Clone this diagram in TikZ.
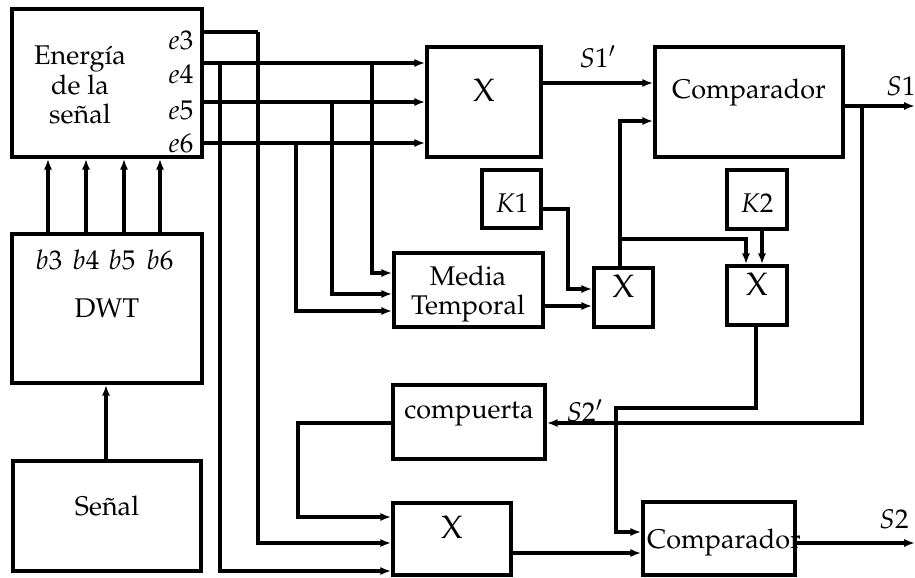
\documentclass[tikz,border=0pt]{standalone}
\usepackage[T1]{fontenc}
\usepackage{mathpazo}
\usetikzlibrary{arrows.meta,fit}
\begin{document}
\begin{tikzpicture}[x=0.37pt,y=-0.37pt,
  every node/.style={font=\fontsize{10}{11}\selectfont},
  box/.style={draw,line width=1.3pt,inner sep=0pt},
  xbox/.style={box,font=\fontsize{12}{14}\selectfont},
  lbl/.style={inner sep=0pt},
  wire/.style={line width=1.2pt},
  arr/.style={wire,-{Latex[length=4pt,width=3pt]}}]
\useasboundingbox (0,0) rectangle (915,577);
% blocks
\node[box,fit={(12,9)(202,157)}] (en) {};
\node[lbl,align=center] (entxt) at (80,85) {Energ\'{\i}a\\de la\\se\~nal};
\node[lbl] (le3) at (181,40) {$e3$};
\node[lbl] (le4) at (181,74) {$e4$};
\node[lbl] (le5) at (181,110) {$e5$};
\node[lbl] (le6) at (181,143) {$e6$};
\node[box,fit={(12,234)(202,383)}] (dwt) {};
\node[lbl] (lb3) at (49,260) {$b3$};
\node[lbl] (lb4) at (86,260) {$b4$};
\node[lbl] (lb5) at (122,260) {$b5$};
\node[lbl] (lb6) at (160,260) {$b6$};
\node[lbl] (dwttxt) at (107,308) {DWT};
\node[box,fit={(13,461)(201,571)}] (sen) {Se\~nal};
\node[xbox,fit={(427,47)(541,157)}] (x1) {X};
\node[box,fit={(655,47)(843,157)}] (cmp1) {Comparador};
\node[box,fit={(482,170)(541,228)}] (k1) {};
\node[lbl] (k1txt) at (512,203) {$K1$};
\node[box,fit={(727,170)(787,229)}] (k2) {};
\node[lbl] (k2txt) at (757,203) {$K2$};
\node[box,fit={(394,253)(543,327)}] (media) {};
\node[lbl,align=center] (mediatxt) at (468,294) {Media\\Temporal};
\node[xbox,fit={(594,268)(653,327)}] (x2) {X};
\node[xbox,fit={(727,266)(787,325)}] (x3) {X};
\node[box,fit={(393,385)(545,459)}] (comp) {compuerta};
\node[xbox,fit={(393,503)(511,575)}] (x4) {X};
\node[box,fit={(643,502)(795,575)}] (cmp2) {};
\node[lbl] (cmp2txt) at (724,543) {Comparador};
% junction coordinates
\coordinate (j4a) at (220,63);
\coordinate (j4b) at (372,63);
\coordinate (j5) at (332,102);
\coordinate (j6) at (296,143);
\coordinate (j3) at (258,32);
\coordinate (jx2) at (620,239);
\coordinate (js1) at (862,106);
\coordinate (oS1) at (915,106);
\coordinate (oS2) at (915,543);
% energy outputs
\draw[wire] (en.east |- 0,32) -- (j3);
\draw[arr] (j3) |- (x4.west |- 0,543);
\draw[arr] (en.east |- 0,63) -- (x1.west |- 0,63);
\draw[arr] (en.east |- 0,102) -- (x1.west |- 0,102);
\draw[arr] (en.east |- 0,143) -- (x1.west |- 0,143);
\draw[arr] (j4a) |- (x4.west |- 0,571);
\draw[arr] (j4b) |- (media.west |- 0,273);
\draw[arr] (j5) |- (media.west |- 0,294);
\draw[arr] (j6) |- (media.west |- 0,311);
% DWT to energy
\foreach \xx in {48,86,124,160}
  \draw[arr] (dwt.north -| \xx,0) -- (en.south -| \xx,0);
\draw[arr] (sen.north -| 106,0) -- (dwt.south -| 106,0);
% middle
\draw[arr] (x1.east |- 0,83) -- node[lbl,above=5pt] (ls1p) {$S1'$} (cmp1.west |- 0,83);
\draw[arr] (x2.north -| 620,0) |- (cmp1.west |- 0,121);
\draw[arr] (jx2) -| (x3.north -| 746,0);
\draw[arr] (k2.south -| 762,0) -- (x3.north -| 762,0);
\draw[arr] (k1.east |- 0,209) -| (568,289) -- (x2.west |- 0,289);
\draw[arr] (media.east |- 0,306) -- (x2.west |- 0,306);
\draw[arr] (x3.south -| 756,0) |- (616,408) |- (cmp2.west |- 0,532);
% comparator 1 output and feedback
\draw[arr] (cmp1.east |- 0,106) -- (oS1);
\node[lbl] (ls1) at (901,86) {$S1$};
\draw[arr] (js1) |- (comp.east |- 0,423);
\node[lbl] (ls2p) at (585,411) {$S2'$};
\draw[arr] (comp.west |- 0,423) -| (298,517) -- (x4.west |- 0,517);
\draw[arr] (x4.east |- 0,553) -- (cmp2.west |- 0,553);
\draw[arr] (cmp2.east |- 0,543) -- (oS2);
\node[lbl] (ls2) at (894,519) {$S2$};
\end{tikzpicture}
\end{document}
